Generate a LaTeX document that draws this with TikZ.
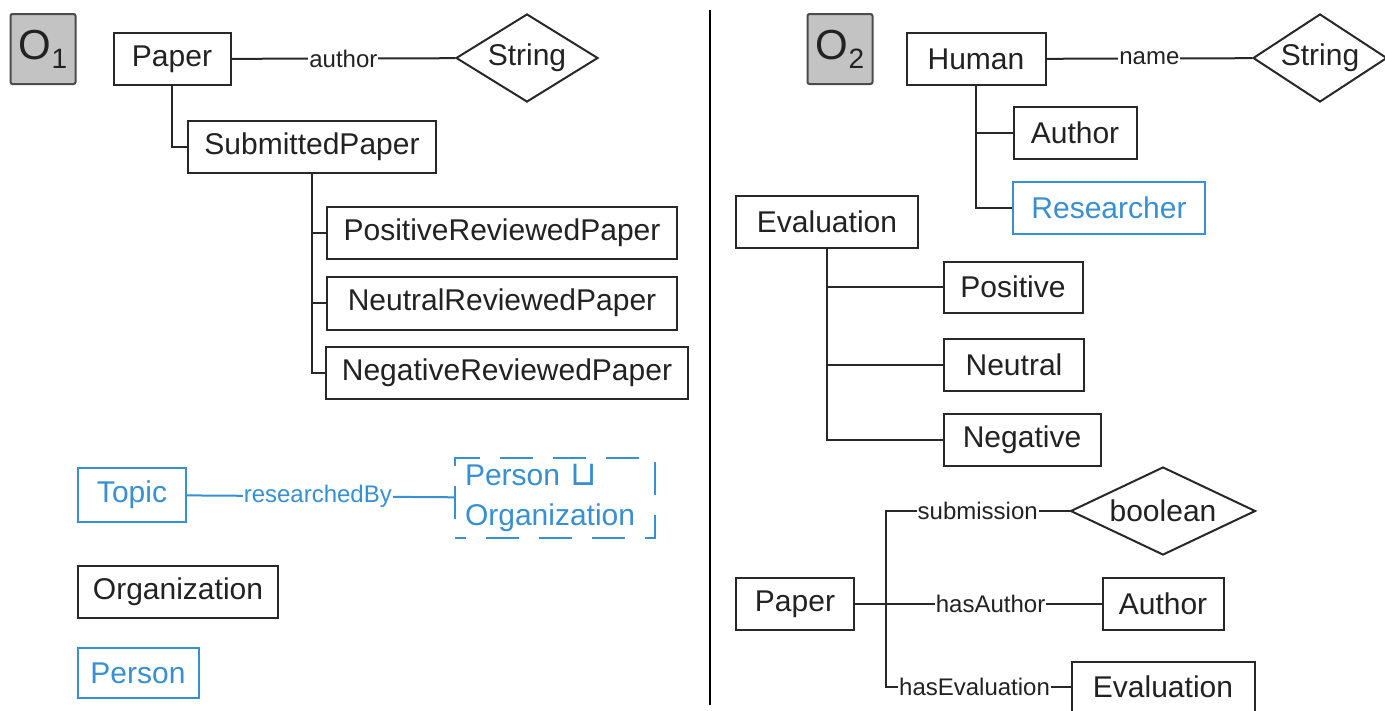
\documentclass[tikz,border=0pt]{standalone}
\usepackage{fontspec}
\setmainfont{Liberation Sans}
\newfontfamily\symfont{DejaVu Sans}
\usetikzlibrary{shapes.geometric}
\definecolor{ink}{RGB}{34,34,34}
\definecolor{edge}{RGB}{40,40,40}
\definecolor{newblue}{RGB}{56,143,209}
\definecolor{tagfill}{RGB}{195,195,195}
\begin{document}
\begin{tikzpicture}[x=1pt,y=-1pt,
  every node/.style={text=ink, font=\fontsize{30}{36}\selectfont},
  cls/.style={draw=edge, line width=2pt, fill=white, inner sep=0pt},
  newcls/.style={cls, draw=newblue, text=newblue},
  dtype/.style={diamond, draw=edge, line width=2pt, fill=white, inner sep=0pt, aspect=1.6},
  lbl/.style={fill=white, inner sep=1pt, font=\fontsize{24}{28}\selectfont},
  newlbl/.style={lbl, text=newblue},
  link/.style={draw=edge, line width=2pt},
  newlink/.style={draw=newblue, line width=2pt},
  tag/.style={draw=black!70, line width=2pt, fill=tagfill, rounded corners=2pt, inner sep=0pt,
              minimum width=65, minimum height=70, font=\fontsize{42}{42}\selectfont}
]
\useasboundingbox (0,0) rectangle (1385,710);
\fill[white] (0,0) rectangle (1385,710);

% ---------- left ontology ----------
\node[tag] (o1) at (43,49) {O\raisebox{-9pt}{\fontsize{28}{28}\selectfont 1}};

\node[cls, minimum width=117, minimum height=52] (paperA) at (172,59) {Paper};
\node[dtype, minimum width=142, minimum height=88, label=center:String] (strA) at (527,58) {};
\node[cls, minimum width=248, minimum height=52] (subm) at (312,147) {SubmittedPaper};
\node[cls, minimum width=350, minimum height=52] (posrev) at (502,233) {PositiveReviewedPaper};
\node[cls, minimum width=350, minimum height=53] (neurev) at (502,303) {NeutralReviewedPaper};
\node[cls, minimum width=362, minimum height=52] (negrev) at (507,373) {NegativeReviewedPaper};

\draw[link] (paperA) -- node[lbl] {author} (strA);
\draw[link] (paperA.south) |- (subm.west);
\draw[link] (subm.south) |- (posrev.west);
\draw[link] (subm.south) |- (neurev.west);
\draw[link] (subm.south) |- (negrev.west);

\node[newcls, minimum width=108, minimum height=54] (topic) at (132,495) {Topic};
\node[draw=newblue, line width=2pt, dash pattern=on 33pt off 20pt, dash phase=22pt,
      text=newblue, inner xsep=10pt, inner ysep=0pt, text width=180pt, minimum height=80,
      align=left, font=\fontsize{30}{40}\selectfont] (union) at (555,498)
      {Person {\symfont\fontsize{34}{34}\selectfont ⊔}\\Organization};
\draw[newlink] (topic) -- node[newlbl, pos=0.49] {researchedBy} (union);

\node[cls, minimum width=200, minimum height=52] (orgA) at (178,592) {Organization};
\node[newcls, minimum width=121, minimum height=50] (personA) at (138,673) {Person};

% ---------- divider ----------
\coordinate (divtop) at (710,10);
\coordinate (divbot) at (710,705);
\draw[line width=2pt, black] (divtop) -- (divbot);

% ---------- right ontology ----------
\node[tag] (o2) at (840,49) {O\raisebox{-9pt}{\fontsize{28}{28}\selectfont 2}};

\node[cls, minimum width=139, minimum height=52] (human) at (976,59) {Human};
\node[dtype, minimum width=134, minimum height=88, label=center:String] (strB) at (1320,58) {};
\node[cls, minimum width=123, minimum height=52] (authB) at (1075,133) {Author};
\node[newcls, minimum width=192, minimum height=52] (resB) at (1109,208) {Researcher};

\draw[link] (human) -- node[lbl] {name} (strB);
\draw[link] (human.south) |- (authB.west);
\draw[link] (human.south) |- (resB.west);

\node[cls, minimum width=182, minimum height=52] (evalB) at (827,222) {Evaluation};
\node[cls, minimum width=139, minimum height=51] (posB) at (1013,287) {Positive};
\node[cls, minimum width=140, minimum height=52] (neuB) at (1014,365) {Neutral};
\node[cls, minimum width=157, minimum height=52] (negB) at (1022,440) {Negative};

\draw[link] (evalB.south) |- (posB.west);
\draw[link] (evalB.south) |- (neuB.west);
\draw[link] (evalB.south) |- (negB.west);

\node[cls, minimum width=118, minimum height=52] (paperB) at (795,604) {Paper};
\node[dtype, minimum width=185, minimum height=88, label=center:boolean] (boolB) at (1163,511) {};
\node[cls, minimum width=121, minimum height=52] (authC) at (1163,604) {Author};
\node[cls, minimum width=183, minimum height=50] (evalC) at (1163,687) {Evaluation};
\coordinate (fork) at (886,604);

\draw[link] (paperB) -- node[lbl, pos=0.55] {hasAuthor} (authC);
\draw[link] (fork) |- node[lbl, pos=0.75] {submission} (boolB.west);
\draw[link] (fork) |- node[lbl, pos=0.74] {hasEvaluation} (evalC.west);
\end{tikzpicture}
\end{document}
